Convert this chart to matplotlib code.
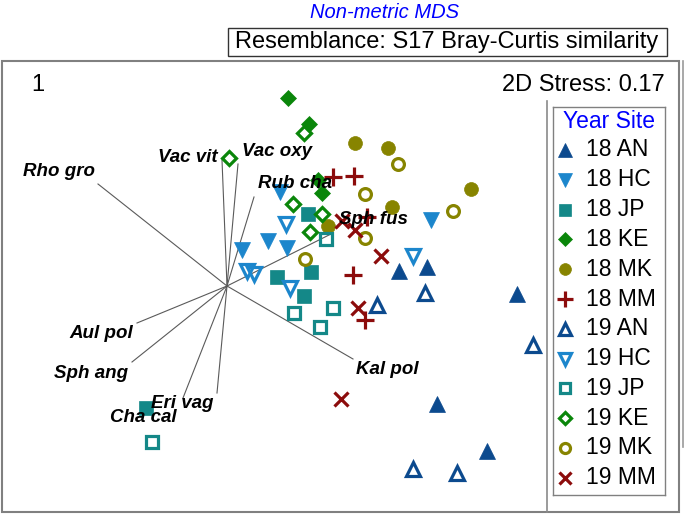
import matplotlib
matplotlib.use("Agg")
import matplotlib.pyplot as plt
from matplotlib.patches import Rectangle
from matplotlib.lines import Line2D

plt.rcParams['font.family'] = ['Liberation Sans', 'DejaVu Sans']

# --- data: nMDS coordinates per Year/Site group ---
groups = ["18 AN", "18 HC", "18 JP", "18 KE", "18 MK", "18 MM",
          "19 AN", "19 HC", "19 JP", "19 KE", "19 MK", "19 MM"]

mds_x = {
    "18 AN": [1.72, 2.00, 2.90, 2.10, 2.60],
    "18 HC": [0.53, 2.04, 0.41, 0.60, 0.15],
    "18 JP": [0.81, 0.50, 0.84, 0.77, -0.81],
    "18 KE": [0.61, 0.82, 0.91, 0.95],
    "18 MK": [1.28, 1.61, 2.44, 1.65, 1.01],
    "18 MM": [1.06, 1.27, 1.40, 1.26, 1.38],
    "19 AN": [1.98, 1.50, 3.06, 1.86, 2.30],
    "19 HC": [0.59, 1.86, 0.20, 0.27, 0.63],
    "19 JP": [0.99, 1.06, 0.93, 0.67, -0.75],
    "19 KE": [0.77, 0.02, 0.66, 0.95, 0.83],
    "19 MK": [1.71, 1.38, 2.26, 1.38, 0.78],
    "19 MM": [1.15, 1.28, 1.54, 1.31, 1.14],
}
mds_y = {
    "18 AN": [0.15, 0.19, -0.08, -1.18, -1.65],
    "18 HC": [0.94, 0.66, 0.45, 0.38, 0.36],
    "18 JP": [0.72, 0.09, 0.14, -0.10, -1.22],
    "18 KE": [1.88, 1.62, 1.06, 0.93],
    "18 MK": [1.43, 1.38, 0.97, 0.79, 0.60],
    "18 MM": [1.09, 1.10, 0.69, 0.11, -0.34],
    "19 AN": [-0.07, -0.19, -0.59, -1.83, -1.87],
    "19 HC": [0.62, 0.30, 0.15, 0.12, -0.02],
    "19 JP": [0.47, -0.22, -0.41, -0.27, -1.56],
    "19 KE": [1.53, 1.28, 0.82, 0.72, 0.54],
    "19 MK": [1.22, 0.92, 0.75, 0.48, 0.27],
    "19 MM": [0.65, 0.56, 0.30, -0.22, -1.13],
}

# species vectors (end points from origin)
species = ["Rho gro", "Vac vit", "Vac oxy", "Rub cha", "Sph fus",
           "Kal pol", "Aul pol", "Sph ang", "Cha cal", "Eri vag"]
vec_x = [-1.29, -0.05, 0.11, 0.27, 1.06, 1.26, -0.90, -0.95, -0.44, -0.10]
vec_y = [1.02, 1.26, 1.22, 0.89, 0.53, -0.73, -0.37, -0.76, -1.12, -1.07]

# --- styles ---
site_color = {"AN": "#0c4a8e", "HC": "#1c86cc", "JP": "#148888",
              "KE": "#0a860a", "MK": "#878400", "MM": "#8c0c0c"}
site_marker = {"AN": "^", "HC": "v", "JP": "s", "KE": "D", "MK": "o", "MM": None}
marker_size = {"AN": 12, "HC": 12, "JP": 10, "KE": 8.5, "MK": 10, "MM": 12}

# label offsets in pixels (dx, dy) and alignment
label_off = {
    "Rho gro": (-3, 12, "right"), "Vac vit": (-4, 3, "right"),
    "Vac oxy": (4, 13, "left"), "Rub cha": (4, 13, "left"),
    "Sph fus": (6, 14, "left"), "Kal pol": (3, -11, "left"),
    "Aul pol": (-4, -10, "right"), "Sph ang": (-4, -12, "right"),
    "Cha cal": (-6, -20, "right"), "Eri vag": (-3, -10, "right"),
}

W, H = 685, 514


def fbox(x0, y0, x1, y1):
    # pixel box (top-left origin) -> figure fraction rect
    return [x0 / W, 1 - y1 / H, (x1 - x0) / W, (y1 - y0) / H]


def marker_style(g):
    year, site = g.split()
    c = site_color[site]
    if site == "MM":
        m = "+" if year == "18" else "x"
        ms = 13.5 if year == "18" else 10.5
        return dict(marker=m, color=c, markersize=ms, markeredgewidth=2.3, linestyle="none")
    m = site_marker[site]
    if year == "18":
        return dict(marker=m, color=c, markersize=marker_size[site],
                    markeredgewidth=0.5, markerfacecolor=c, linestyle="none")
    return dict(marker=m, color=c, markersize=marker_size[site] - 1.5,
                markeredgewidth=2.3, markerfacecolor="none", linestyle="none")


fig = plt.figure(figsize=(W / 100, H / 100), dpi=100)

# frames
fig.add_artist(Rectangle((2 / W, 1 - 512 / H), 677 / W, 451 / H, transform=fig.transFigure,
                         fill=False, edgecolor="#808080", linewidth=1.5))
fig.add_artist(Line2D([683 / W, 683 / W], [1 - 61 / H, 1 - 447 / H], transform=fig.transFigure,
                      color="#9a9a9a", linewidth=1.2))
fig.add_artist(Line2D([547 / W, 547 / W], [1 - 101 / H, 1 - 512 / H], transform=fig.transFigure,
                      color="#8a8a8a", linewidth=1.2))
fig.add_artist(Rectangle((228 / W, 1 - 56 / H), 439 / W, 28 / H, transform=fig.transFigure,
                         fill=False, edgecolor="#333333", linewidth=1))

fig.text(385 / W, 1 - 12 / H, "Non-metric MDS", color="#0000ff", fontsize=14.5,
         style="italic", ha="center", va="center")
fig.text(447 / W, 1 - 42 / H, "Resemblance: S17 Bray-Curtis similarity", fontsize=17,
         ha="center", va="center")
fig.text(665 / W, 1 - 85 / H, "2D Stress: 0.17", fontsize=17, ha="right", va="center")
fig.text(38 / W, 1 - 85 / H, "1", fontsize=17, ha="center", va="center")

# main ordination axes
ax = fig.add_axes(fbox(2, 61, 547, 512))
ax.set_xlim(-2.25, 3.20)
ax.set_ylim(-2.26, 2.25)
ax.axis("off")

for sp, vx, vy in zip(species, vec_x, vec_y):
    ax.plot([0, vx], [0, vy], color="#5a5a5a", linewidth=0.8, zorder=1)
    dx, dy, ha = label_off[sp]
    ax.annotate(sp, (vx, vy), xytext=(dx * 0.72, dy * 0.72), textcoords="offset points",
                ha=ha, va="center", fontsize=13.5, fontweight="bold", style="italic",
                color="#000000", zorder=5)

for g in groups:
    ax.plot(mds_x[g], mds_y[g], zorder=3, **marker_style(g))

# legend
lax = fig.add_axes(fbox(553, 107, 665, 495))
lax.set_xlim(0, 112)
lax.set_ylim(388, 0)
lax.set_xticks([])
lax.set_yticks([])
for s in lax.spines.values():
    s.set_edgecolor("#808080")
    s.set_linewidth(1)
lax.text(56, 14, "Year Site", color="#0000ff", fontsize=16.5, ha="center", va="center")
for i, g in enumerate(groups):
    yy = 43 + i * 29.8
    st = marker_style(g)
    st["markersize"] = st["markersize"] * 0.85
    lax.plot([12], [yy], **st)
    lax.text(33, yy, g, fontsize=16.5, ha="left", va="center")

fig.savefig("out.png", dpi=100)
